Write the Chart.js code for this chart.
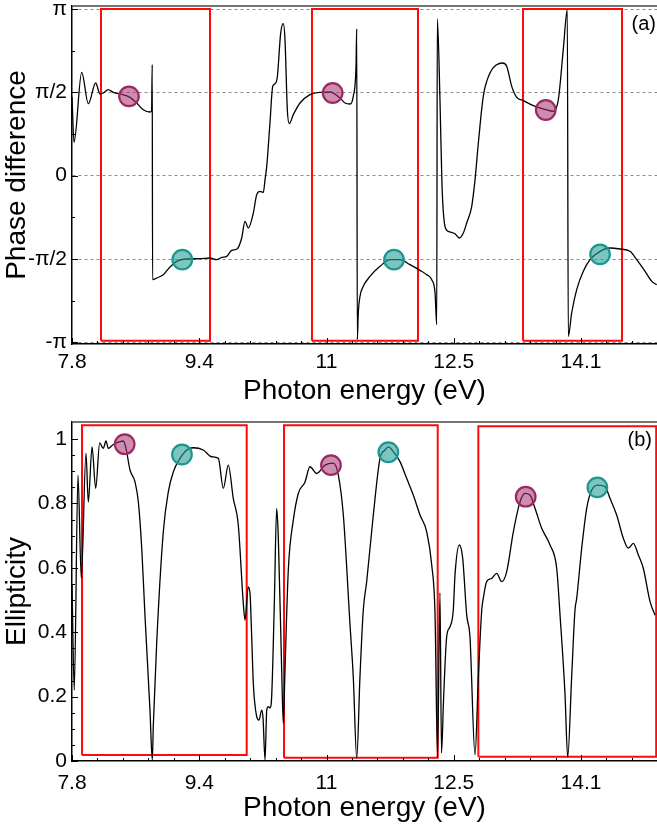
<!DOCTYPE html>
<html>
<head>
<meta charset="utf-8">
<script src="https://cdn.jsdelivr.net/npm/chart.js@4.4.1/dist/chart.umd.min.js"></script>
<style>
  html, body { margin: 0; padding: 0; background: #fff; }
  #wrap { position: relative; width: 657px; height: 828px; }
  canvas { position: absolute; left: 0; }
  #phase { top: 0; }
  #ellip { top: 410px; }
</style>
</head>
<body>
<div id="wrap">
  <canvas id="phase" width="657" height="410"></canvas>
  <canvas id="ellip" width="657" height="418"></canvas>
</div>
<script>
// ─── Axes ────────────────────────────────────────────────────────────────────
const X_MIN = 7.8;
const X_MAX = 15.04;
const X_TICKS = [7.8, 9.375, 10.95, 12.525, 14.1];
const X_TICK_LABELS = ['7.8', '9.4', '11', '12.5', '14.1'];
const X_MINOR_STEP = 0.315;

// phase is kept in units of π
const PHASE_TICKS = [-1, -0.5, 0, 0.5, 1];
const PHASE_TICK_LABELS = ['-π', '-π/2', '0', 'π/2', 'π'];
const ELLIP_TICKS = [0, 0.2, 0.4, 0.6, 0.8, 1];
const ELLIP_TICK_LABELS = ['0', '0.2', '0.4', '0.6', '0.8', '1'];

// ─── (a) phase difference ────────────────────────────────────────────────────
const PHASE_E = [
  7.800, 7.825, 7.920, 8.002, 8.093, 8.147, 8.187, 8.249, 8.311, 8.394,
  8.518, 8.601, 8.682, 8.765, 8.785, 8.793, 8.797, 8.848, 8.930, 9.013,
  9.096, 9.220, 9.384, 9.508, 9.591, 9.653, 9.715, 9.776, 9.846, 9.900,
  9.941, 9.982, 10.044, 10.086, 10.127, 10.168, 10.189, 10.210, 10.250, 10.284,
  10.312, 10.341, 10.383, 10.415, 10.436, 10.465, 10.489, 10.539, 10.622, 10.745,
  10.869, 10.993, 11.117, 11.179, 11.241, 11.281, 11.315, 11.324, 11.331, 11.343,
  11.364, 11.405, 11.488, 11.612, 11.736, 11.859, 11.983, 12.107, 12.190, 12.252,
  12.293, 12.314, 12.321, 12.354, 12.379, 12.416, 12.457, 12.540, 12.593, 12.643,
  12.685, 12.747, 12.788, 12.829, 12.890, 12.973, 13.056, 13.130, 13.180, 13.242,
  13.304, 13.386, 13.509, 13.663, 13.757, 13.819, 13.880, 13.930, 13.942, 13.984,
  14.046, 14.128, 14.211, 14.335, 14.458, 14.582, 14.706, 14.789, 14.892, 14.975,
  15.036,
];
const PHASE_VAL = [
  0.474, 0.200, 0.620, 0.432, 0.556, 0.490, 0.496, 0.516, 0.500, 0.490,
  0.470, 0.436, 0.396, 0.382, 0.390, 0.666, -0.624, -0.614, -0.594, -0.548,
  -0.514, -0.500, -0.498, -0.494, -0.504, -0.490, -0.484, -0.448, -0.438, -0.374,
  -0.274, -0.314, -0.224, -0.114, -0.094, -0.100, -0.024, 0.056, 0.316, 0.536,
  0.552, 0.592, 0.857, 0.912, 0.816, 0.396, 0.312, 0.366, 0.436, 0.486,
  0.500, 0.502, 0.466, 0.436, 0.430, 0.476, 0.656, 0.881, -0.984, -0.824,
  -0.724, -0.664, -0.604, -0.544, -0.504, -0.504, -0.534, -0.568, -0.594, -0.624,
  -0.704, -0.894, 0.941, 0.456, -0.054, -0.304, -0.334, -0.348, -0.374, -0.344,
  -0.284, -0.184, -0.024, 0.196, 0.476, 0.616, 0.666, 0.676, 0.656, 0.536,
  0.470, 0.450, 0.420, 0.396, 0.386, 0.456, 0.756, 0.996, -0.965, -0.824,
  -0.684, -0.574, -0.504, -0.454, -0.434, -0.440, -0.454, -0.504, -0.574, -0.634,
  -0.654,
];
const PHASE_MAG_E = [8.505, 11.026, 13.663];
const PHASE_MAG_Y = [0.476, 0.496, 0.394];
const PHASE_TEAL_E = [9.165, 11.785, 14.335];
const PHASE_TEAL_Y = [-0.504, -0.504, -0.472];
const PHASE_BOX_E = [[8.159, 9.508], [10.770, 12.082], [13.382, 14.607]];
const PHASE_BOX_LO = [-0.99, -0.99, -0.99];
const PHASE_BOX_HI = [1.0, 1.0, 1.0];

// ─── (b) ellipticity ─────────────────────────────────────────────────────────
const ELLIP_E = [
  7.800, 7.828, 7.874, 7.915, 7.973, 8.002, 8.048, 8.093, 8.143, 8.187,
  8.221, 8.249, 8.311, 8.394, 8.435, 8.468, 8.518, 8.580, 8.621, 8.663,
  8.703, 8.765, 8.794, 8.806, 8.848, 8.930, 8.992, 9.054, 9.137, 9.220,
  9.301, 9.425, 9.529, 9.611, 9.673, 9.734, 9.796, 9.858, 9.920, 9.941,
  9.982, 10.003, 10.024, 10.044, 10.086, 10.114, 10.148, 10.164, 10.189, 10.210,
  10.229, 10.250, 10.271, 10.304, 10.333, 10.353, 10.395, 10.415, 10.436, 10.477,
  10.539, 10.601, 10.684, 10.745, 10.828, 10.931, 11.034, 11.096, 11.158, 11.241,
  11.281, 11.324, 11.364, 11.405, 11.447, 11.529, 11.612, 11.674, 11.715, 11.777,
  11.859, 11.942, 12.024, 12.107, 12.190, 12.252, 12.293, 12.324, 12.354, 12.373,
  12.398, 12.437, 12.478, 12.519, 12.540, 12.593, 12.635, 12.685, 12.725, 12.788,
  12.829, 12.871, 12.890, 12.932, 12.994, 13.056, 13.118, 13.180, 13.262, 13.345,
  13.406, 13.468, 13.530, 13.613, 13.716, 13.799, 13.840, 13.901, 13.935, 13.984,
  14.025, 14.046, 14.108, 14.170, 14.232, 14.314, 14.397, 14.458, 14.541, 14.623,
  14.685, 14.747, 14.809, 14.871, 14.954, 15.015,
];
const ELLIP_VAL = [
  0.550, 0.220, 0.888, 0.567, 0.956, 0.804, 0.976, 0.847, 0.988, 0.971,
  0.994, 0.971, 0.983, 0.992, 0.994, 0.971, 0.904, 0.867, 0.805, 0.661,
  0.453, 0.158, 0.003, 0.107, 0.366, 0.712, 0.836, 0.898, 0.940, 0.966,
  0.973, 0.966, 0.945, 0.940, 0.847, 0.919, 0.816, 0.733, 0.490, 0.438,
  0.541, 0.521, 0.386, 0.241, 0.138, 0.127, 0.158, 0.134, 0.003, 0.158,
  0.169, 0.165, 0.200, 0.490, 0.785, 0.697, 0.283, 0.117, 0.283, 0.593,
  0.748, 0.831, 0.867, 0.914, 0.893, 0.919, 0.925, 0.888, 0.764, 0.422,
  0.262, 0.009, 0.262, 0.469, 0.557, 0.764, 0.940, 0.966, 0.976, 0.961,
  0.930, 0.878, 0.826, 0.764, 0.712, 0.609, 0.453, 0.012, 0.522, 0.025,
  0.189, 0.386, 0.417, 0.469, 0.578, 0.671, 0.630, 0.453, 0.386, 0.019,
  0.262, 0.469, 0.505, 0.557, 0.567, 0.583, 0.557, 0.588, 0.712, 0.805,
  0.831, 0.826, 0.785, 0.723, 0.671, 0.598, 0.453, 0.210, 0.012, 0.262,
  0.469, 0.505, 0.661, 0.785, 0.842, 0.857, 0.852, 0.816, 0.764, 0.692,
  0.661, 0.676, 0.640, 0.598, 0.495, 0.453,
];
const ELLIP_MAG_E = [8.452, 11.005, 13.415];
const ELLIP_MAG_Y = [0.984, 0.919, 0.821];
const ELLIP_TEAL_E = [9.161, 11.715, 14.302];
const ELLIP_TEAL_Y = [0.952, 0.959, 0.850];
const ELLIP_BOX_E = [[7.924, 9.962], [10.424, 12.326], [12.829, 15.03]];
const ELLIP_BOX_LO = [0.019, 0.010, 0.013];
const ELLIP_BOX_HI = [1.043, 1.043, 1.040];

// ─── Styling ─────────────────────────────────────────────────────────────────
const FONT = '"Liberation Sans", Arial, Helvetica, sans-serif';
Chart.defaults.font.family = FONT;
Chart.defaults.color = '#000';

const MAG = { fill: 'rgba(165, 45, 110, 0.55)', line: '#9a2a66' };
const TEAL = { fill: 'rgba(35, 160, 150, 0.6)', line: '#1d9690' };

const zip = (xs, ys) => xs.map((x, i) => ({ x, y: ys[i] }));

// top frame line, inward tick marks, panel label
const frame = {
  id: 'frame',
  afterDatasetsDraw(chart, args, opts) {
    const { ctx, chartArea: a, scales: { x, y } } = chart;
    ctx.save();
    ctx.strokeStyle = '#444';
    ctx.lineWidth = 1.5;
    ctx.beginPath();
    ctx.moveTo(a.left, a.top);
    ctx.lineTo(a.right + 1, a.top);
    ctx.stroke();

    ctx.strokeStyle = '#000';
    ctx.lineWidth = 1;
    ctx.beginPath();
    for (let v = X_MIN; v <= X_MAX; v += X_MINOR_STEP) {
      const px = Math.round(x.getPixelForValue(v)) + 0.5;
      const major = X_TICKS.some(t => Math.abs(t - v) < 1e-6);
      ctx.moveTo(px, a.bottom);
      ctx.lineTo(px, a.bottom - (major ? 6 : 3));
    }
    for (let v = opts.yMin; v <= opts.yMax + 1e-9; v += opts.yMinor) {
      const py = Math.round(y.getPixelForValue(v)) + 0.5;
      const major = opts.yTicks.some(t => Math.abs(t - v) < 1e-6);
      ctx.moveTo(a.left, py);
      ctx.lineTo(a.left + (major ? 6 : 3), py);
    }
    ctx.stroke();

    ctx.font = `20px ${FONT}`;
    ctx.fillStyle = '#000';
    ctx.textAlign = 'right';
    ctx.textBaseline = 'middle';
    ctx.fillText(opts.label, a.right + opts.labelDx, a.top + opts.labelDy);
    ctx.restore();
  },
};

function boxDatasets(boxes, lo, hi) {
  return boxes.map(([x0, x1], i) => ({
    type: 'line',
    data: [
      { x: x0, y: lo[i] }, { x: x0, y: hi[i] }, { x: x1, y: hi[i] },
      { x: x1, y: lo[i] }, { x: x0, y: lo[i] },
    ],
    borderColor: '#ff0a0a',
    borderWidth: 2,
    pointRadius: 0,
    tension: 0,
    order: 3,
  }));
}

function markerDataset(points, style) {
  return {
    type: 'scatter',
    data: points,
    pointRadius: 9.8,
    pointBackgroundColor: style.fill,
    pointBorderColor: style.line,
    pointBorderWidth: 2.2,
    order: 1,
  };
}

function drawPanel(canvasId, p) {
  new Chart(document.getElementById(canvasId), {
    type: 'scatter',
    data: {
      datasets: [
        markerDataset(zip(p.magE, p.magY), MAG),
        markerDataset(zip(p.tealE, p.tealY), TEAL),
        {
          type: 'line',
          data: zip(p.curveE, p.curveY),
          borderColor: '#000',
          borderWidth: 1.3,
          pointRadius: 0,
          cubicInterpolationMode: 'monotone',
          order: 2,
        },
        ...boxDatasets(p.boxE, p.boxLo, p.boxHi),
      ],
    },
    options: {
      responsive: false,
      animation: false,
      events: [],
      layout: { autoPadding: false, padding: { top: p.padTop, right: 0, bottom: 0, left: 0 } },
      plugins: {
        legend: { display: false },
        tooltip: { enabled: false },
        frame: {
          label: p.label, labelDx: p.labelDx, labelDy: p.labelDy,
          yMin: p.yTicks[0], yMax: p.yTicks[p.yTicks.length - 1],
          yMinor: p.yMinor, yTicks: p.yTicks,
        },
      },
      scales: {
        x: {
          type: 'linear',
          min: X_MIN,
          max: X_MAX,
          afterBuildTicks: s => { s.ticks = X_TICKS.map(value => ({ value })); },
          afterFit: s => {
            s.height = p.xHeight;
            s.paddingLeft = 0;
            s.paddingRight = 0;
          },
          grid: { display: false, drawTicks: false },
          border: { display: true, color: '#000', width: 1.5 },
          ticks: {
            autoSkip: false,
            maxRotation: 0,
            padding: p.xTickPad,
            font: { size: 21 },
            callback: (v, i) => X_TICK_LABELS[i],
          },
          title: {
            display: true,
            text: 'Photon energy (eV)',
            font: { size: 28 },
            padding: { top: 0, bottom: p.xTitlePad },
          },
        },
        y: {
          type: 'linear',
          min: p.yMin,
          max: p.yMax,
          afterBuildTicks: s => { s.ticks = p.yTicks.map(value => ({ value })); },
          afterFit: s => {
            s.width = 72;
            s.paddingTop = 0;
            s.paddingBottom = 0;
          },
          grid: {
            display: p.yGrid,
            drawTicks: false,
            color: '#8a8a8a',
            lineWidth: 1,
          },
          border: { display: true, color: '#000', width: 1.5, dash: [3, 3] },
          ticks: {
            autoSkip: false,
            padding: 5,
            font: { size: 21 },
            callback: (v, i) => p.yTickLabels[i],
          },
          title: {
            display: true,
            text: p.yTitle,
            font: { size: 28 },
            padding: { top: 0, bottom: 0 },
          },
        },
      },
    },
    plugins: [frame],
  });
}

drawPanel('phase', {
  curveE: PHASE_E, curveY: PHASE_VAL,
  magE: PHASE_MAG_E, magY: PHASE_MAG_Y,
  tealE: PHASE_TEAL_E, tealY: PHASE_TEAL_Y,
  boxE: PHASE_BOX_E, boxLo: PHASE_BOX_LO, boxHi: PHASE_BOX_HI,
  yMin: -1.010, yMax: 1.018,
  yTicks: PHASE_TICKS, yTickLabels: PHASE_TICK_LABELS, yMinor: 0.25,
  yGrid: true, yTitle: 'Phase difference',
  padTop: 6, xHeight: 66, xTickPad: 6, xTitlePad: 2,
  label: '(a)', labelDx: -1, labelDy: 18,
});

drawPanel('ellip', {
  curveE: ELLIP_E, curveY: ELLIP_VAL,
  magE: ELLIP_MAG_E, magY: ELLIP_MAG_Y,
  tealE: ELLIP_TEAL_E, tealY: ELLIP_TEAL_Y,
  boxE: ELLIP_BOX_E, boxLo: ELLIP_BOX_LO, boxHi: ELLIP_BOX_HI,
  yMin: 0, yMax: 1.053,
  yTicks: ELLIP_TICKS, yTickLabels: ELLIP_TICK_LABELS, yMinor: 0.05,
  yGrid: false, yTitle: 'Ellipticity',
  padTop: 12, xHeight: 67, xTickPad: 10, xTitlePad: 3,
  label: '(b)', labelDx: -5, labelDy: 18,
});
</script>
</body>
</html>
